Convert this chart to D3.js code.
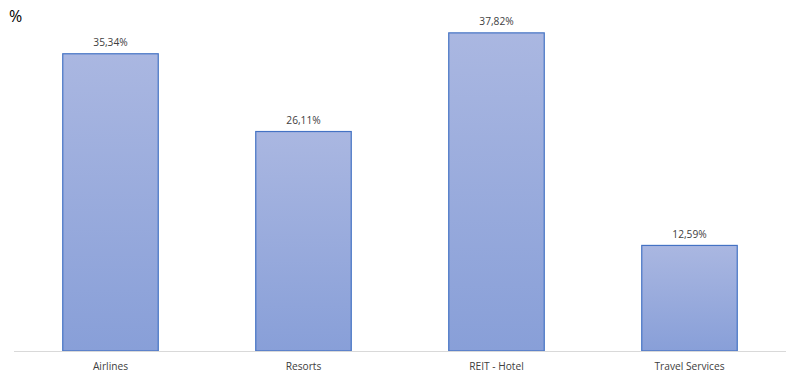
<!DOCTYPE html>
<html>
<head>
<meta charset="utf-8">
<script src="https://cdn.jsdelivr.net/npm/d3@7"></script>
<style>
  body { margin: 0; background: #fff; }
  svg { display: block; font-family: "Open Sans", "Liberation Sans", sans-serif; }
</style>
</head>
<body>
<svg id="chart" width="800" height="381"></svg>
<script>
const categories = ['Airlines', 'Resorts', 'REIT - Hotel', 'Travel Services'];
const values = [35.34, 26.11, 37.82, 12.59];
const labels = ['35,34%', '26,11%', '37,82%', '12,59%'];

const svg = d3.select('#chart');
const m = { top: 14, right: 14, bottom: 30, left: 14 };
const W = 800, H = 381;

const x = d3.scaleBand()
  .domain(categories)
  .range([m.left, W - m.right])
  .paddingInner(0.5)
  .paddingOuter(0.25);

const y = d3.scaleLinear()
  .domain([0, 40])
  .range([H - m.bottom, m.top]);

const defs = svg.append('defs');
const grad = defs.append('linearGradient')
  .attr('id', 'barGrad')
  .attr('x1', 0).attr('y1', 0).attr('x2', 0).attr('y2', 1);
grad.append('stop').attr('offset', '0%').attr('stop-color', '#aab7e1');
grad.append('stop').attr('offset', '100%').attr('stop-color', '#889fd8');

svg.append('text')
  .attr('x', 9)
  .attr('y', 22)
  .attr('font-size', 16)
  .attr('fill', '#000')
  .text('%');

const data = categories.map((c, i) => ({ c, v: values[i], l: labels[i] }));

svg.selectAll('rect.bar')
  .data(data)
  .enter()
  .append('rect')
  .attr('class', 'bar')
  .attr('x', d => x(d.c) + 0.5)
  .attr('y', d => y(d.v) + 0.5)
  .attr('width', x.bandwidth() - 1)
  .attr('height', d => y(0) - y(d.v) - 0.5)
  .attr('fill', 'url(#barGrad)')
  .attr('stroke', '#4472c4')
  .attr('stroke-width', 1.2);

svg.append('line')
  .attr('x1', m.left)
  .attr('x2', W - m.right)
  .attr('y1', y(0) + 0.5)
  .attr('y2', y(0) + 0.5)
  .attr('stroke', '#d9d9d9')
  .attr('stroke-width', 1);

svg.selectAll('text.val')
  .data(data)
  .enter()
  .append('text')
  .attr('class', 'val')
  .attr('x', d => x(d.c) + x.bandwidth() / 2)
  .attr('y', d => y(d.v) - 7)
  .attr('text-anchor', 'middle')
  .attr('font-size', 10.2)
  .attr('fill', '#404040')
  .text(d => d.l);

svg.selectAll('text.cat')
  .data(data)
  .enter()
  .append('text')
  .attr('class', 'cat')
  .attr('x', d => x(d.c) + x.bandwidth() / 2)
  .attr('y', y(0) + 19)
  .attr('text-anchor', 'middle')
  .attr('font-size', 10.2)
  .attr('fill', '#404040')
  .text(d => d.c);
</script>
</body>
</html>
